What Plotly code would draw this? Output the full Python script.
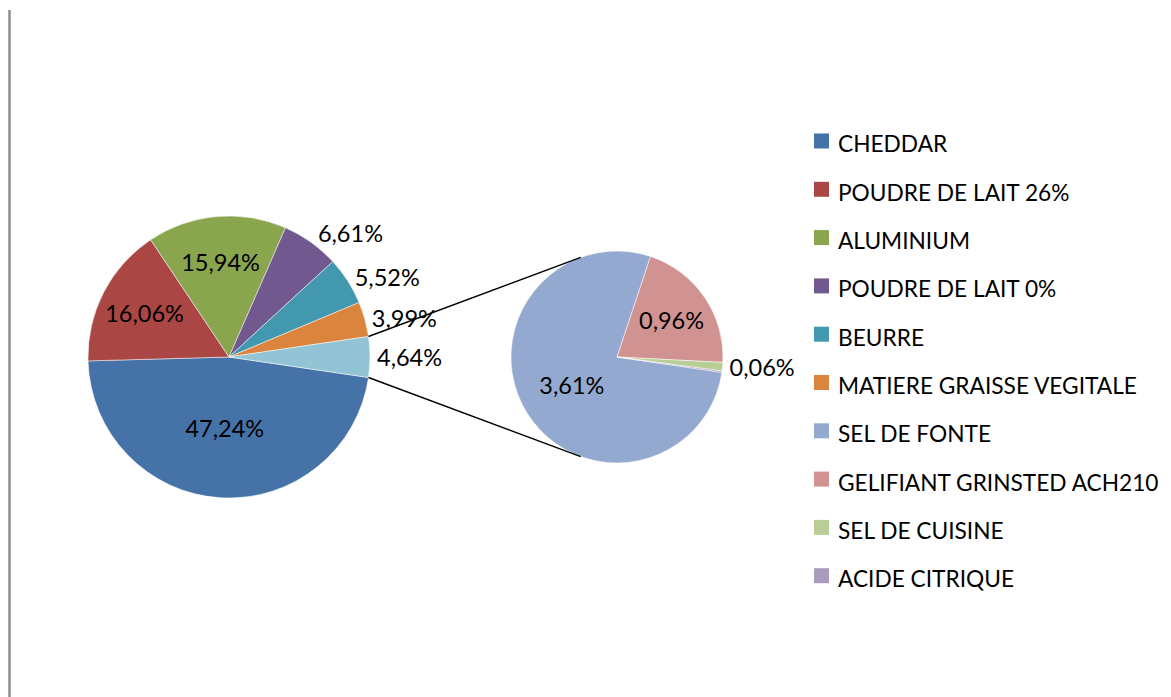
import math
import plotly.graph_objects as go

# ---------------- data ----------------
main_labels = ["CHEDDAR", "POUDRE DE LAIT 26%", "ALUMINIUM", "POUDRE DE LAIT 0%",
               "BEURRE", "MATIERE GRAISSE VEGITALE"]
main_values = [47.24, 16.06, 15.94, 6.61, 5.52, 3.99]
other_label = "Autres"
other_value = 4.64

sub_labels = ["SEL DE FONTE", "GELIFIANT GRINSTED ACH210", "SEL DE CUISINE", "ACIDE CITRIQUE"]
sub_values = [3.61, 0.96, 0.06, 0.01]

main_colors = ["#4572A7", "#AA4643", "#89A54E", "#71588F", "#4198AF", "#DB843D"]
other_color = "#93C4D5"
sub_colors = ["#93A9CF", "#D19392", "#B9CD96", "#A99BBD"]

legend_labels = main_labels + sub_labels
legend_colors = main_colors + sub_colors

# ---------------- layout helpers ----------------
W, H = 1171, 697
OFF = 8  # page body margin
FONT = "Lato"
FS_LABEL = 23.5
FS_LEGEND = 22.7


def px(x):
    return (x - OFF) / W


def py(y):
    return 1 - (y - OFF) / H


main_c, main_r = (229, 357), 141
sub_c, sub_r = (617, 357), 106

main_total = sum(main_values) + other_value
rotation = 90 + other_value / main_total * 180

fig = go.Figure()

fig.add_trace(go.Pie(
    labels=main_labels + [other_label],
    values=main_values + [other_value],
    sort=False,
    direction="clockwise",
    rotation=rotation,
    marker=dict(colors=main_colors + [other_color], line=dict(color="white", width=0.5)),
    texttemplate="%{value:.2f}%",
    textposition=["inside", "inside", "inside", "outside", "outside", "outside", "outside"],
    insidetextorientation="horizontal",
    textfont=dict(family=FONT, size=FS_LABEL, color="black"),
    domain=dict(x=[px(main_c[0] - main_r), px(main_c[0] + main_r)],
                y=[py(main_c[1] + main_r), py(main_c[1] - main_r)]),
    showlegend=False,
    hoverinfo="label+value",
))

fig.add_trace(go.Pie(
    labels=sub_labels,
    values=sub_values,
    sort=False,
    direction="clockwise",
    rotation=rotation,
    marker=dict(colors=sub_colors, line=dict(color="white", width=0.5)),
    texttemplate=["%{value:.2f}%", "%{value:.2f}%", "%{value:.2f}%", ""],
    textposition=["inside", "inside", "outside", "none"],
    insidetextorientation="horizontal",
    textfont=dict(family=FONT, size=FS_LABEL, color="black"),
    domain=dict(x=[px(sub_c[0] - sub_r), px(sub_c[0] + sub_r)],
                y=[py(sub_c[1] + sub_r), py(sub_c[1] - sub_r)]),
    showlegend=False,
    hoverinfo="label+value",
))

shapes = []
# connector lines between the two pies
half = other_value / main_total * math.pi
sub_ang = math.radians(20)
for s in (-1, 1):
    x0 = main_c[0] + main_r * math.cos(half)
    y0 = main_c[1] + s * main_r * math.sin(half)
    x1 = sub_c[0] - sub_r * math.sin(sub_ang)
    y1 = sub_c[1] + s * sub_r * math.cos(sub_ang)
    shapes.append(dict(type="line", xref="paper", yref="paper",
                       x0=px(x0), y0=py(y0), x1=px(x1), y1=py(y1),
                       line=dict(color="black", width=1.4)))

# left border line
shapes.append(dict(type="line", xref="paper", yref="paper",
                   x0=px(9.5), y0=py(10), x1=px(9.5), y1=py(H + OFF),
                   line=dict(color="#8C8C8C", width=2.5)))

# legend (squares + text)
annotations = []
leg_x_box, leg_x_text, leg_y0, leg_step, box = 814, 836, 144, 48.3, 15
for i, (lab, col) in enumerate(zip(legend_labels, legend_colors)):
    yc = leg_y0 + i * leg_step
    shapes.append(dict(type="rect", xref="paper", yref="paper",
                       x0=px(leg_x_box), x1=px(leg_x_box + box),
                       y0=py(yc - 3 + box / 2), y1=py(yc - 3 - box / 2),
                       fillcolor=col, line=dict(width=0)))
    annotations.append(dict(xref="paper", yref="paper", x=px(leg_x_text), y=py(yc),
                            xanchor="left", yanchor="middle", showarrow=False,
                            text=lab, font=dict(family=FONT, size=FS_LEGEND, color="black")))

fig.update_layout(
    width=W, height=H,
    margin=dict(l=0, r=0, t=0, b=0),
    paper_bgcolor="white",
    plot_bgcolor="white",
    separators=", ",
    shapes=shapes,
    annotations=annotations,
    showlegend=False,
    font=dict(family=FONT, size=FS_LABEL, color="black"),
)

fig.write_html("out.html")
